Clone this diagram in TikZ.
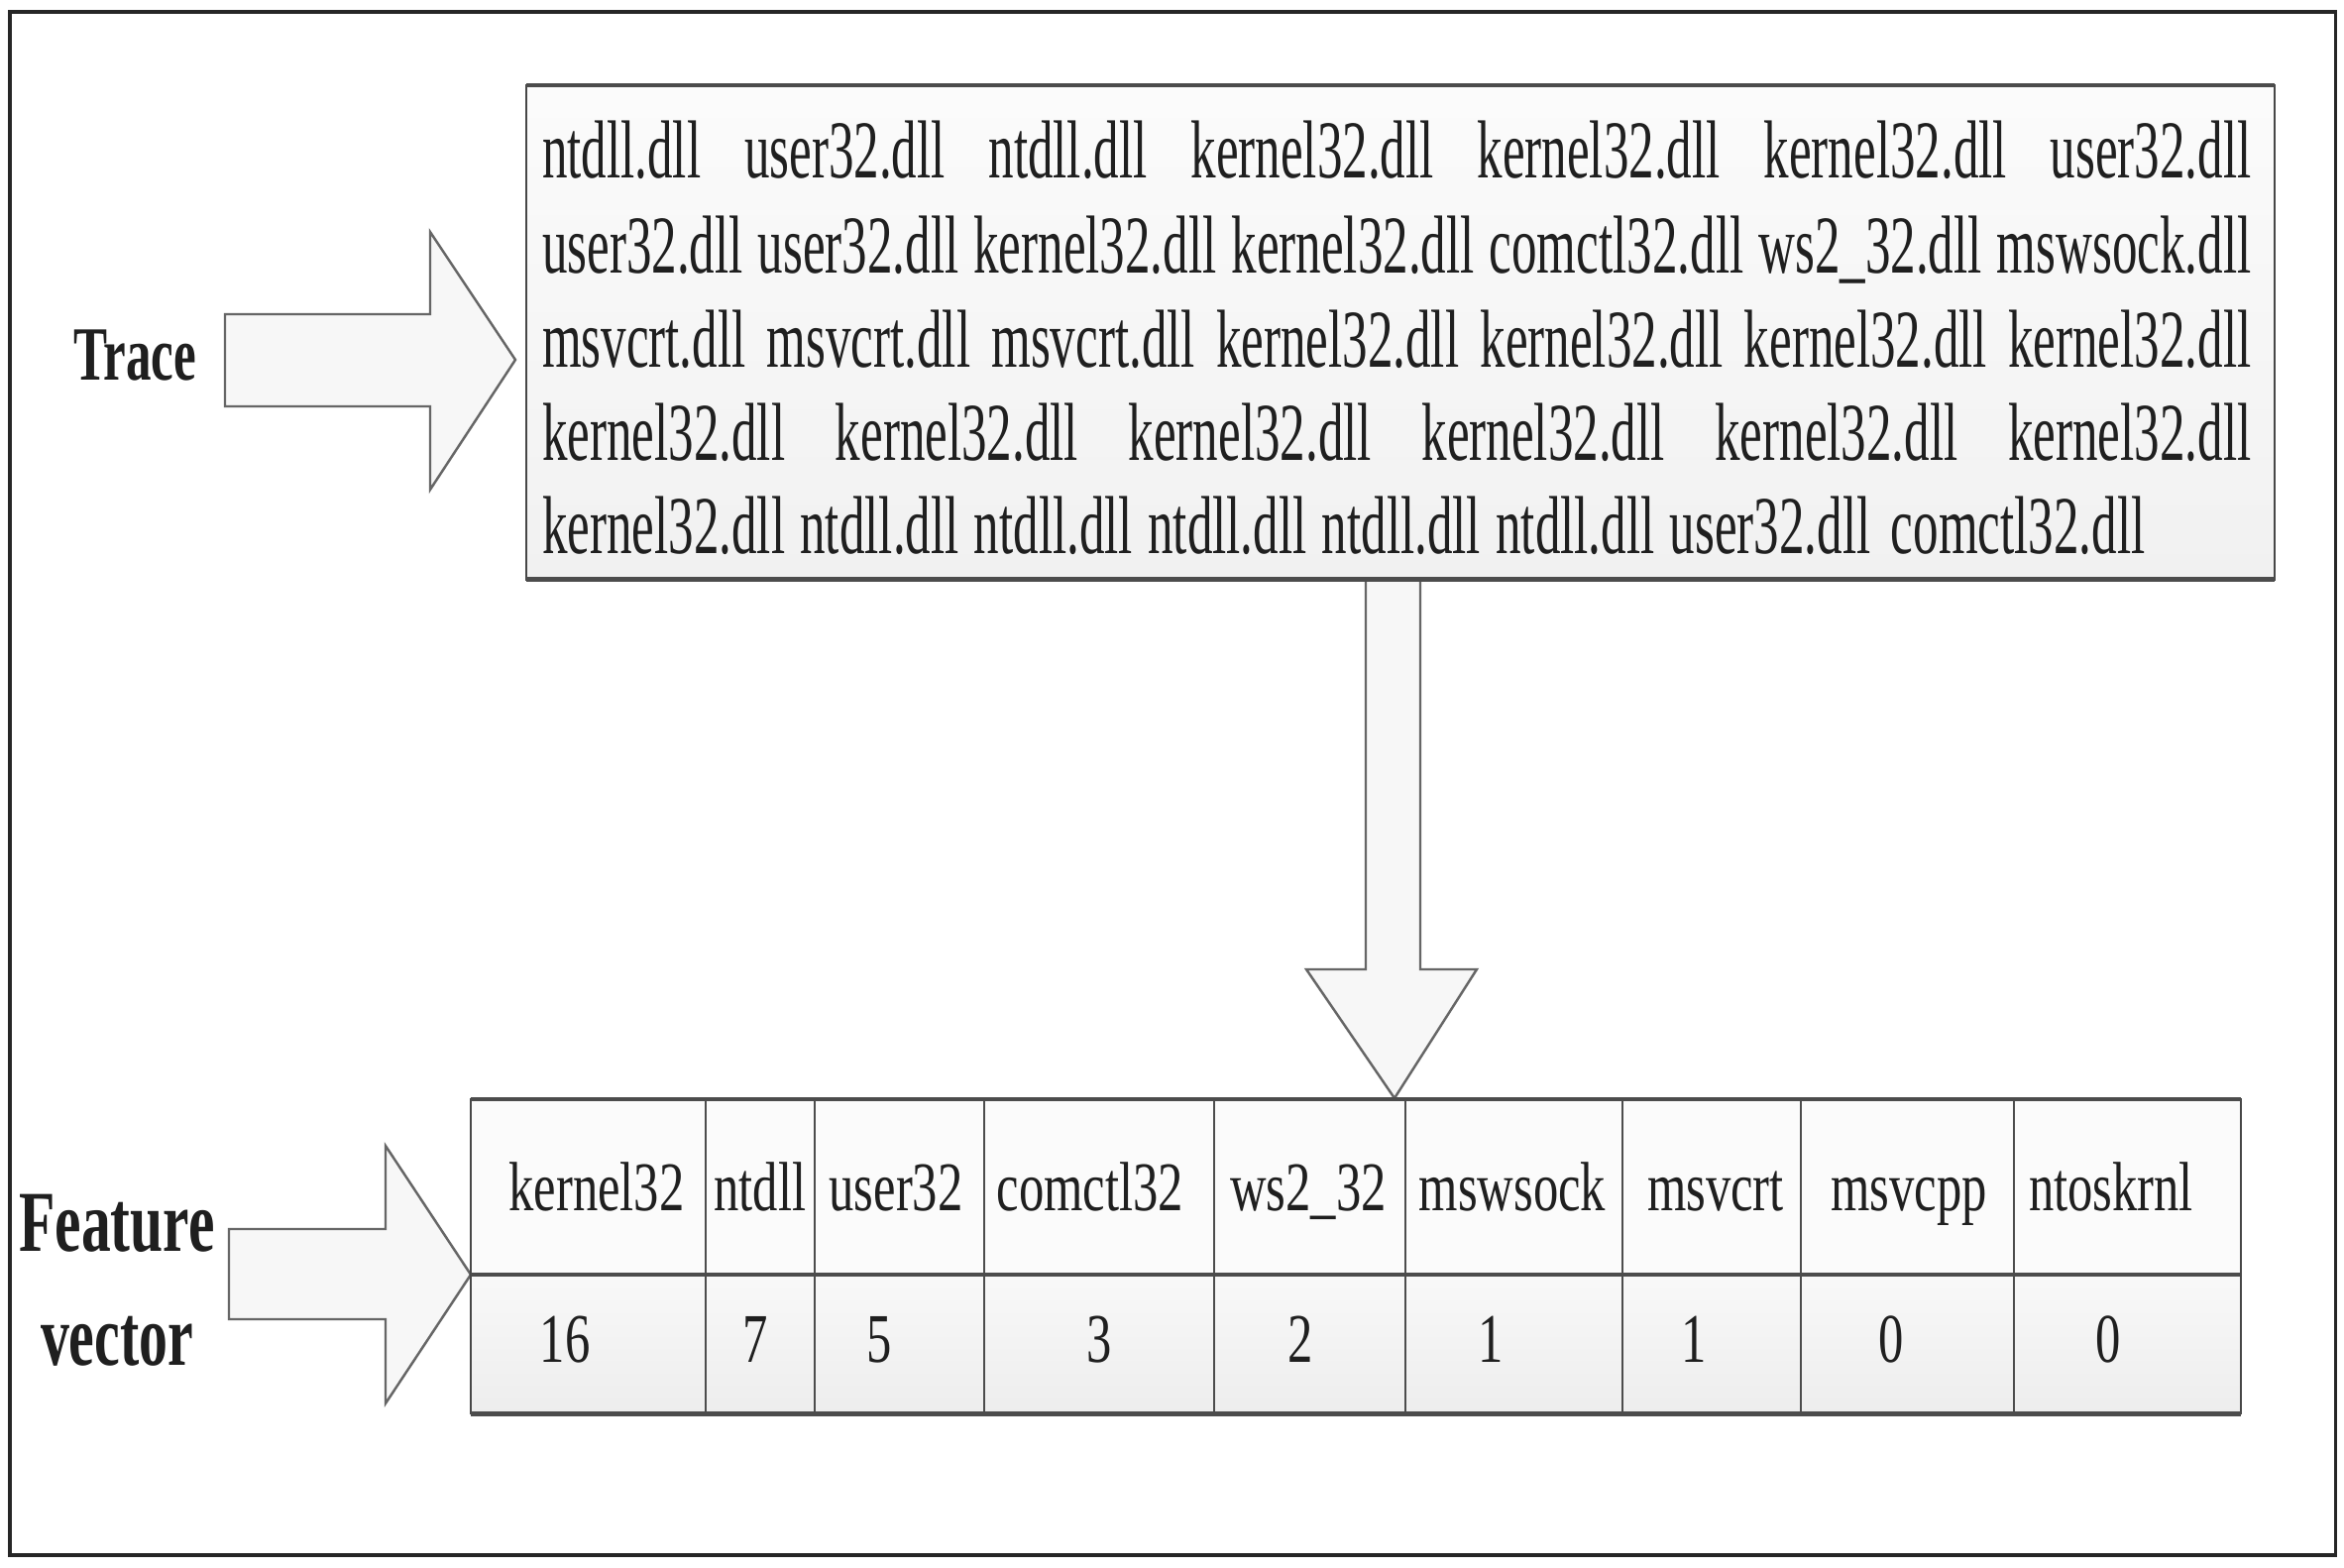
\documentclass[tikz,border=0pt]{standalone}
\usepackage{fontspec}
\setmainfont{Liberation Serif}
\usepackage{graphicx}
\newcommand{\sqz}[2]{\scalebox{#1}[1]{#2}}
\newcommand{\trline}[2]{\scalebox{0.615}[1]{\makebox[#1][s]{#2}}}
\tikzset{
  txt/.style={inner sep=0pt, outer sep=0pt, text=black!88},
  trfont/.style={font=\fontsize{23.6}{28}\selectfont},
  cellfont/.style={font=\fontsize{20}{24}\selectfont},
  lblfont/.style={font=\bfseries\fontsize{22}{26}\selectfont},
  lblfontb/.style={font=\bfseries\fontsize{24.9}{30}\selectfont},
  framebox/.style={draw=black!85, line width=1pt, inner sep=0pt, outer sep=0pt},
  tracebox/.style={draw=black!72, line width=0.7pt, inner sep=0pt, outer sep=0pt,
                   top color=gray!3, bottom color=gray!11},
  tablebox/.style={draw=black!72, line width=0.7pt, inner sep=0pt, outer sep=0pt},
  hedge/.style={draw=black!70, line width=1.4pt},
  vline/.style={draw=black!70, line width=0.6pt},
  blockarrow/.style={draw=black!60, line width=0.7pt, fill=gray!6, line join=miter},
}
\begin{document}
\begin{tikzpicture}[x=0.01cm,y=-0.01cm]
\useasboundingbox (0,0) rectangle (2365,1582);
\fill[white] (0,0) rectangle (2365,1582);

% outer frame
\node[framebox, minimum width=23.45cm, minimum height=15.56cm, anchor=north west] (frame) at (10,12) {};

% trace box
\node[tracebox, minimum width=17.63cm, minimum height=4.98cm, anchor=north west] (trace) at (531,86) {};

% trace text lines
\node[txt, trfont, anchor=base west] (l1) at (547,180) {\trline{280.2mm}{ntdll.dll\hfill user32.dll\hfill ntdll.dll\hfill kernel32.dll\hfill kernel32.dll\hfill kernel32.dll\hfill user32.dll}};
\node[txt, trfont, anchor=base west] (l2) at (547,276) {\trline{280.2mm}{user32.dll\hfill user32.dll\hfill kernel32.dll\hfill kernel32.dll\hfill comctl32.dll\hfill ws2\_32.dll\hfill mswsock.dll}};
\node[txt, trfont, anchor=base west] (l3) at (547,371) {\trline{280.2mm}{msvcrt.dll\hfill msvcrt.dll\hfill msvcrt.dll\hfill kernel32.dll\hfill kernel32.dll\hfill kernel32.dll\hfill kernel32.dll}};
\node[txt, trfont, anchor=base west] (l4) at (547,465) {\trline{280.2mm}{kernel32.dll\hfill kernel32.dll\hfill kernel32.dll\hfill kernel32.dll\hfill kernel32.dll\hfill kernel32.dll}};
\node[txt, trfont, anchor=base west] (l5) at (547,558) {\trline{262.8mm}{kernel32.dll\hfill ntdll.dll\hfill ntdll.dll\hfill ntdll.dll\hfill ntdll.dll\hfill ntdll.dll\hfill user32.dll\hfill\hskip 0.1em comctl32.dll}};

% table fills
\fill[gray!3] (475,1109) rectangle (2260,1286);
\shade[top color=gray!5, bottom color=gray!14] (475,1286) rectangle (2260,1426);

% left labels
\node[txt, lblfont, anchor=base] (lbltrace) at (136,384) {\sqz{0.66}{Trace}};
\node[txt, lblfontb, anchor=base] (lblfeat) at (118,1262) {\sqz{0.68}{Feature}};
\node[txt, lblfontb, anchor=base] (lblvec) at (118,1377) {\sqz{0.66}{vector}};

% block arrows
\coordinate (trtip) at (520,363);
\draw[blockarrow] (trtip) -- ++(-86,-129) -- ++(0,83) -- ++(-207,0) -- ++(0,93) -- ++(207,0) -- ++(0,84) -- cycle;

\coordinate (fvtip) at (475,1286);
\draw[blockarrow] (fvtip) -- ++(-86,-130) -- ++(0,84) -- ++(-158,0) -- ++(0,91) -- ++(158,0) -- ++(0,85) -- cycle;

\coordinate (dntop) at (1405,584);
\coordinate (dntip) at (1407,1108);
\draw[blockarrow] (1378,584) -- (1378,978) -- (1318,978) -- (dntip) -- (1490,978) -- (1433,978) -- (1433,584) -- cycle;

% table borders
\node[tablebox, minimum width=17.85cm, minimum height=3.17cm, anchor=north west] (vec) at (475,1109) {};
\foreach \x in {712,822,993,1225,1418,1637,1817,2032}
  \draw[vline] (\x,1109) -- (\x,1426);
\draw[hedge] (vec.north west) -- (vec.north east);
\draw[hedge] (475,1286) -- (2260,1286);
\draw[hedge] (vec.south west) -- (vec.south east);

% trace box horizontal edges
\draw[hedge] (trace.north west) -- (trace.north east);
\draw[hedge] (trace.south west) -- (trace.south east);

% header
\node[txt, cellfont, anchor=base] (h1) at (602,1221) {\sqz{0.72}{kernel32}};
\node[txt, cellfont, anchor=base] (h2) at (767,1221) {\sqz{0.72}{ntdll}};
\node[txt, cellfont, anchor=base] (h3) at (904,1221) {\sqz{0.72}{user32}};
\node[txt, cellfont, anchor=base] (h4) at (1100,1221) {\sqz{0.72}{comctl32}};
\node[txt, cellfont, anchor=base] (h5) at (1320,1221) {\sqz{0.72}{ws2\_32}};
\node[txt, cellfont, anchor=base] (h6) at (1526,1221) {\sqz{0.72}{mswsock}};
\node[txt, cellfont, anchor=base] (h7) at (1731,1221) {\sqz{0.72}{msvcrt}};
\node[txt, cellfont, anchor=base] (h8) at (1926,1221) {\sqz{0.72}{msvcpp}};
\node[txt, cellfont, anchor=base] (h9) at (2130,1221) {\sqz{0.72}{ntoskrnl}};

% values
\node[txt, cellfont, anchor=base] (v1) at (570,1374) {\sqz{0.72}{16}};
\node[txt, cellfont, anchor=base] (v2) at (762,1374) {\sqz{0.72}{7}};
\node[txt, cellfont, anchor=base] (v3) at (887,1374) {\sqz{0.72}{5}};
\node[txt, cellfont, anchor=base] (v4) at (1109,1374) {\sqz{0.72}{3}};
\node[txt, cellfont, anchor=base] (v5) at (1312,1374) {\sqz{0.72}{2}};
\node[txt, cellfont, anchor=base] (v6) at (1504,1374) {\sqz{0.72}{1}};
\node[txt, cellfont, anchor=base] (v7) at (1709,1374) {\sqz{0.72}{1}};
\node[txt, cellfont, anchor=base] (v8) at (1908,1374) {\sqz{0.72}{0}};
\node[txt, cellfont, anchor=base] (v9) at (2127,1374) {\sqz{0.72}{0}};
\end{tikzpicture}
\end{document}
